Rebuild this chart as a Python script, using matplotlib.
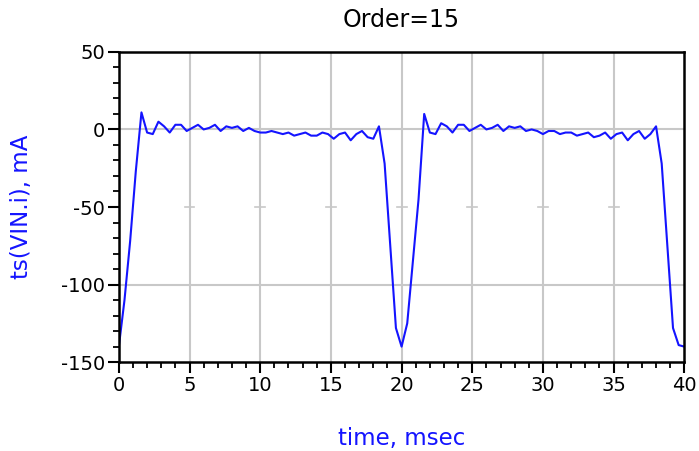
import numpy as np
import matplotlib
matplotlib.use("Agg")
import matplotlib.pyplot as plt
from matplotlib.ticker import MultipleLocator

plt.rcParams['font.family'] = ['DejaVu Sans']
plt.rcParams['axes.unicode_minus'] = False

# time axis, msec (0.4 ms steps)
time_ms = np.linspace(0, 40, 101)

# ts(VIN.i), mA
period1 = [-140, -110, -72, -27, 11, -2, -3, 5, 2, -2,
           3, 3, -1, 1, 3, 0, 1, 3, -1, 2,
           1, 2, -1, 1, -1, -2, -2, -1, -2, -3,
           -2, -4, -3, -2, -4, -4, -2, -3, -6, -3,
           -2, -7, -3, -1, -5, -6, 2, -22, -75, -128]
period2 = [-140, -125, -85, -45, 10, -2, -3, 4, 2, -2,
           3, 3, -1, 1, 3, 0, 1, 3, -1, 2,
           1, 2, -1, 0, -1, -3, -1, -1, -3, -2,
           -2, -4, -3, -2, -5, -4, -2, -6, -3, -2,
           -7, -3, -1, -6, -3, 2, -22, -75, -128, -139, -140]
current_mA = period1 + period2[:51]

fig = plt.figure(figsize=(6.99, 4.51), dpi=100)
ax = fig.add_axes([0.170, 0.197, 0.809, 0.688])

grid_c = '#c8c8c8'
for x in range(5, 40, 5):
    ax.axvline(x, color=grid_c, lw=1.5, zorder=0)
for y in (0, -100):
    ax.axhline(y, color=grid_c, lw=1.5, zorder=0)
# little crosses on the -50 line
for x in range(5, 40, 5):
    ax.plot([x - 0.35, x + 0.35], [-50, -50], color=grid_c, lw=1.2, zorder=0)

ax.plot(time_ms, current_mA[:len(time_ms)], color='#1414ff', lw=1.5)

ax.set_xlim(0, 40)
ax.set_ylim(-150, 50)
ax.xaxis.set_major_locator(MultipleLocator(5))
ax.xaxis.set_minor_locator(MultipleLocator(1))
ax.yaxis.set_major_locator(MultipleLocator(50))
ax.yaxis.set_minor_locator(MultipleLocator(10))
ax.tick_params(which='major', direction='out', length=8, width=1.5, labelsize=14, pad=2)
ax.tick_params(which='minor', direction='out', length=4, width=1.3)
for s in ax.spines.values():
    s.set_linewidth(1.8)

ax.set_title('Order=15', fontsize=17, pad=18)
ax.set_xlabel('time, msec', fontsize=16.5, color='#1414ff', labelpad=23)
ax.set_ylabel('ts(VIN.i), mA', fontsize=16.5, color='#1414ff')
ax.yaxis.set_label_coords(-0.152, 0.5)

fig.savefig('out.png', dpi=100)
